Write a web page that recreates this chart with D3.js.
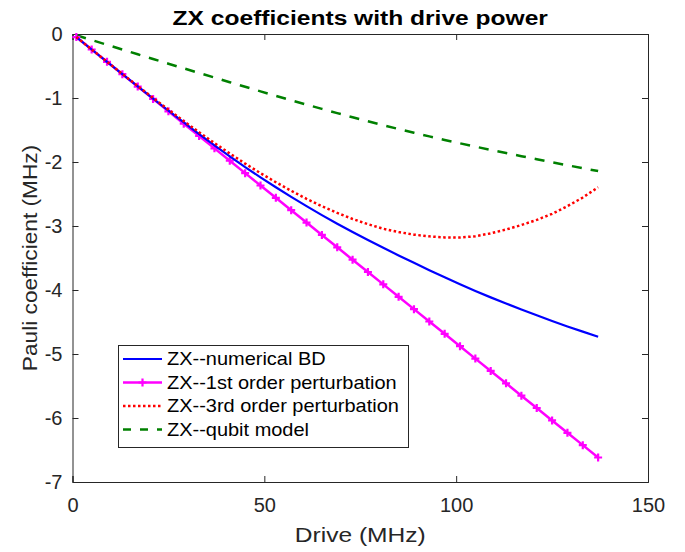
<!DOCTYPE html>
<html>
<head>
<meta charset="utf-8">
<script src="https://cdn.jsdelivr.net/npm/d3@7"></script>
<style>
  html, body { margin: 0; padding: 0; background: #fff; }
  svg { display: block; font-family: "Liberation Sans", Arial, Helvetica, sans-serif; }
</style>
</head>
<body>
<svg id="chart" width="685" height="552"></svg>
<script>
// ---------- data ----------
const drive = [1,5,9,13,17,21,25,29,33,37,41,45,49,53,57,61,65,69,73,77,81,85,89,93,97,101,105,109,113,117,121,125,129,133,137];

const zxNumericalBD = [-0.048,-0.242,-0.435,-0.627,-0.819,-1.009,-1.197,-1.382,-1.563,-1.74,-1.912,-2.08,-2.24,-2.395,-2.545,-2.69,-2.83,-2.965,-3.095,-3.22,-3.34,-3.46,-3.575,-3.69,-3.80,-3.91,-4.015,-4.115,-4.21,-4.305,-4.395,-4.485,-4.57,-4.65,-4.73];

const zxFirstOrder = [-0.048,-0.242,-0.435,-0.628,-0.821,-1.014,-1.208,-1.401,-1.594,-1.787,-1.980,-2.174,-2.367,-2.560,-2.753,-2.946,-3.140,-3.333,-3.526,-3.719,-3.912,-4.106,-4.299,-4.492,-4.685,-4.878,-5.072,-5.265,-5.458,-5.651,-5.844,-6.038,-6.231,-6.424,-6.617];

const zxThirdOrder = [-0.048,-0.242,-0.434,-0.624,-0.813,-0.999,-1.182,-1.361,-1.535,-1.704,-1.867,-2.025,-2.175,-2.316,-2.450,-2.575,-2.691,-2.796,-2.890,-2.972,-3.043,-3.095,-3.135,-3.162,-3.178,-3.180,-3.160,-3.115,-3.055,-2.985,-2.905,-2.810,-2.690,-2.555,-2.395];

const zxQubitModel = [-0.019,-0.094,-0.168,-0.243,-0.317,-0.391,-0.464,-0.537,-0.609,-0.681,-0.753,-0.825,-0.896,-0.966,-1.035,-1.103,-1.170,-1.236,-1.301,-1.364,-1.425,-1.485,-1.543,-1.600,-1.655,-1.708,-1.760,-1.810,-1.860,-1.909,-1.957,-2.004,-2.051,-2.097,-2.142];

const xTicks = [0, 50, 100, 150];
const yTicks = [0, -1, -2, -3, -4, -5, -6, -7];

const titleText = "ZX coefficients with drive power";
const xLabelText = "Drive (MHz)";
const yLabelText = "Pauli coefficient (MHz)";

const seriesNames = ["ZX--numerical BD", "ZX--1st order perturbation", "ZX--3rd order perturbation", "ZX--qubit model"];

// ---------- drawing ----------
const svg = d3.select("#chart");
const pLeft = 72.5, pRight = 648, pTop = 34, pBottom = 482;
const axisColor = "#262626";

const x = d3.scaleLinear().domain([0, 150]).range([pLeft, pRight]);
const y = d3.scaleLinear().domain([-7, 0]).range([pBottom, pTop]);

svg.append("rect").attr("x", 0).attr("y", 0).attr("width", 685).attr("height", 552).attr("fill", "#fff");

const tickFont = 20;

const gx = svg.append("g").attr("transform", `translate(0,${pBottom})`)
  .call(d3.axisBottom(x).tickValues(xTicks).tickSize(-6).tickPadding(16).tickFormat(d3.format("d")));
const gxt = svg.append("g").attr("transform", `translate(0,${pTop})`)
  .call(d3.axisTop(x).tickValues(xTicks).tickSize(-6).tickFormat(""));
const gy = svg.append("g").attr("transform", `translate(${pLeft},0)`)
  .call(d3.axisLeft(y).tickValues(yTicks).tickSize(-6).tickPadding(10).tickFormat(d => String(d)));
const gyr = svg.append("g").attr("transform", `translate(${pRight},0)`)
  .call(d3.axisRight(y).tickValues(yTicks).tickSize(-6).tickFormat(""));

[gx, gxt, gy, gyr].forEach(g => {
  g.select(".domain").attr("stroke", axisColor).attr("stroke-width", 1);
  g.selectAll(".tick line").attr("stroke", axisColor).attr("stroke-width", 1);
  g.selectAll(".tick text").attr("fill", axisColor).attr("font-size", tickFont)
    .attr("font-family", "'Liberation Sans', Arial, sans-serif");
});

const line = d3.line().x((d, i) => x(drive[i])).y(d => y(d));
const plot = svg.append("g");

plot.append("path").datum(zxQubitModel).attr("d", line)
  .attr("fill", "none").attr("stroke", "#008000").attr("stroke-width", 2.5)
  .attr("stroke-dasharray", "10,9");

plot.append("path").datum(zxFirstOrder).attr("d", line)
  .attr("fill", "none").attr("stroke", "#ff00ff").attr("stroke-width", 2.5);

const plusPath = "M-4,0H4M0,-4V4";
plot.append("g").selectAll("path").data(zxFirstOrder).join("path")
  .attr("transform", (d, i) => `translate(${x(drive[i])},${y(d)})`)
  .attr("d", plusPath).attr("stroke", "#ff00ff").attr("stroke-width", 2.2).attr("fill", "none");

plot.append("path").datum(zxNumericalBD).attr("d", line)
  .attr("fill", "none").attr("stroke", "#0000ff").attr("stroke-width", 2.2);

plot.append("path").datum(zxThirdOrder).attr("d", line)
  .attr("fill", "none").attr("stroke", "#ff0000").attr("stroke-width", 2.5)
  .attr("stroke-dasharray", "2.5,2.5");

// title
svg.append("text").attr("transform", `translate(${(pLeft + pRight) / 2},25) scale(1.17,1)`)
  .attr("text-anchor", "middle").attr("font-weight", "bold").attr("font-size", 21)
  .attr("fill", "#000").text(titleText);

// x label
svg.append("text").attr("transform", `translate(${(pLeft + pRight) / 2},542) scale(1.17,1)`)
  .attr("text-anchor", "middle").attr("font-size", 21).attr("fill", axisColor).text(xLabelText);

// y label
svg.append("text").attr("transform", `translate(37,${(pTop + pBottom) / 2}) rotate(-90) scale(1.08,1)`)
  .attr("text-anchor", "middle").attr("font-size", 21).attr("fill", axisColor).text(yLabelText);

// legend
const lg = svg.append("g");
const lgX = 118, lgY = 345, lgW = 290, lgH = 102;
lg.append("rect").attr("x", lgX + 0.5).attr("y", lgY + 0.5).attr("width", lgW).attr("height", lgH)
  .attr("fill", "#fff").attr("stroke", axisColor).attr("stroke-width", 1);

const legendStyles = [
  { color: "#0000ff", width: 2.2, dash: null, marker: false },
  { color: "#ff00ff", width: 2.5, dash: null, marker: true },
  { color: "#ff0000", width: 2.5, dash: "2.5,2.5", marker: false },
  { color: "#008000", width: 2.5, dash: "8,9", marker: false }
];
const rowY = [359, 382.5, 406, 429.5];
seriesNames.forEach((name, i) => {
  const st = legendStyles[i];
  const ly = rowY[i];
  const l = lg.append("line").attr("x1", 123).attr("x2", 162).attr("y1", ly).attr("y2", ly)
    .attr("stroke", st.color).attr("stroke-width", st.width);
  if (st.dash) l.attr("stroke-dasharray", st.dash);
  if (st.marker) {
    lg.append("path").attr("transform", `translate(142.5,${ly})`).attr("d", plusPath)
      .attr("stroke", st.color).attr("stroke-width", 2.2).attr("fill", "none");
  }
  lg.append("text").attr("transform", `translate(167,${ly}) scale(1.11,1)`).attr("dy", "0.35em")
    .attr("font-size", 18).attr("fill", "#000").text(name);
});
</script>
</body>
</html>
